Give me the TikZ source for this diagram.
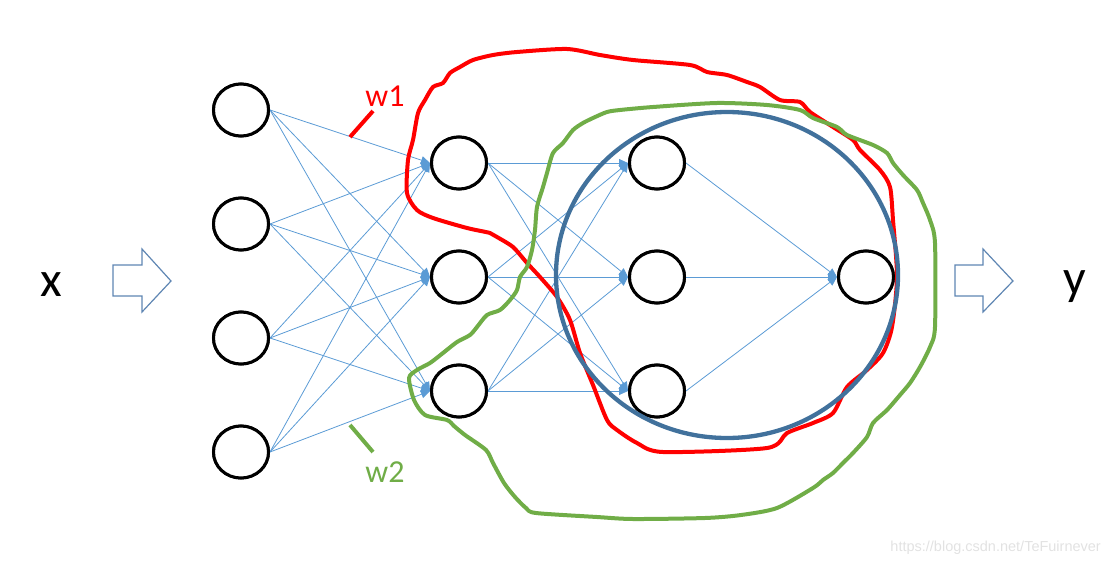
\documentclass[tikz,border=0pt]{standalone}
\usepackage{fontspec}
\setmainfont{Carlito}
\newfontfamily\wmfont{Liberation Sans}
\usetikzlibrary{shapes.geometric,arrows.meta}
\definecolor{edgeblue}{HTML}{5B9BD5}
\definecolor{ringblue}{HTML}{41719C}
\definecolor{wgreen}{HTML}{70AD47}
\definecolor{wred}{HTML}{FF0000}
\definecolor{wmgray}{HTML}{E2E2E2}
\definecolor{blockline}{HTML}{5F86B3}
\begin{document}
\begin{tikzpicture}[x=1pt,y=-1pt,
  neuron/.style={draw=black, line width=3pt, ellipse, minimum width=55pt, minimum height=52pt, inner sep=0pt, fill=white},
  conn/.style={draw=edgeblue, line width=0.8pt, -{Triangle[length=9pt,width=8pt]}},
  blockarrow/.style={draw=blockline, line width=1.2pt, fill=white, line join=miter},
  freehand/.style={line width=4pt, line join=round, line cap=round},
  biglabel/.style={font=\fontsize{50}{60}\selectfont, inner sep=0pt, anchor=base},
  wlabel/.style={font=\fontsize{32}{38}\selectfont, inner sep=0pt, anchor=base},
  tick/.style={line width=4pt},
]
\useasboundingbox (0,0) rectangle (1114,565);

% input layer
\node[neuron] (a1) at (241,110) {};
\node[neuron] (a2) at (241,224) {};
\node[neuron] (a3) at (241,338) {};
\node[neuron] (a4) at (241,452) {};
% hidden layer 1
\node[neuron] (b1) at (459,163) {};
\node[neuron] (b2) at (459,277) {};
\node[neuron] (b3) at (459,391) {};
% hidden layer 2
\node[neuron] (c1) at (657,163) {};
\node[neuron] (c2) at (657,277) {};
\node[neuron] (c3) at (657,391) {};
% output
\node[neuron] (d1) at (866,277) {};

\foreach \i in {1,2,3,4}{\foreach \j in {1,2,3}{\draw[conn] (a\i.east) -- (b\j.west);}}
\foreach \i in {1,2,3}{\foreach \j in {1,2,3}{\draw[conn] (b\i.east) -- (c\j.west);}}
\foreach \i in {1,2,3}{\draw[conn] (c\i.east) -- (d1.west);}

% redraw nodes on top of connectors
\foreach \x/\y in {241/110,241/224,241/338,241/452,459/163,459/277,459/391,657/163,657/277,657/391,866/277}{\node[neuron] at (\x,\y) {};}

% block arrows
\draw[blockarrow] (113,265) -- (142,265) -- (142,249) -- (171,281) -- (142,312) -- (142,296) -- (113,296) -- cycle;
\draw[blockarrow] (955,265) -- (983,265) -- (983,249) -- (1013,281) -- (983,312) -- (983,296) -- (955,296) -- cycle;

% labels x, y
\node[biglabel] (xl) at (51,296) {x};
\node[biglabel] (yl) at (1075,294) {y};

% red freehand curve (w1)
\draw[freehand, draw=wred] plot[smooth cycle, tension=0.45] coordinates {
(407,193) (408,160) (413,140) (418,113) (425,100) (433,87) (443,83) (450,73) (460,67) (473,60) (493,55) (517,52) (567,49) (600,55) (633,60) (690,65) (707,72) (727,75) (747,82) (760,87) (780,100) (800,102) (810,112) (833,127) (853,140) (860,150) (880,170) (890,187) (893,220) (897,277) (892,327) (883,353) (867,370) (847,387) (833,413) (813,423) (787,433) (767,448) (663,452) (637,443) (617,430) (607,420) (593,385) (580,353) (570,320) (557,297) (540,277) (527,263) (513,247) (497,237) (490,233) (467,228) (433,218) (417,210)};

% green freehand curve (w2)
\draw[freehand, draw=wgreen] plot[smooth cycle, tension=0.45] coordinates {
(535,230) (537,207) (543,187) (547,173) (553,153) (563,143) (573,130) (583,123) (593,118) (607,112) (620,110) (653,107) (717,103) (767,105) (800,110) (813,118) (837,127) (847,135) (873,145) (887,153) (893,163) (903,175) (917,190) (923,203) (930,220) (935,243) (935,327) (930,347) (920,367) (910,383) (900,395) (887,410) (873,423) (867,437) (853,453) (843,463) (833,473) (823,480) (813,488) (777,508) (741,515) (705,518) (633,519) (597,517) (536,513) (526,508) (515,497) (504,483) (493,463) (486,450) (465,435) (454,426) (447,420) (425,415) (414,400) (409,378) (417,370) (430,363) (443,353) (457,342) (470,335) (477,327) (487,315) (500,310) (510,300) (517,290) (520,277) (527,267) (532,250)};

% blue ring
\draw[draw=ringblue, line width=4.3pt] (727,275) ellipse [x radius=171pt, y radius=163pt];

% weight labels
\coordinate (w1a) at (350,137);
\coordinate (w1b) at (373,111);
\draw[tick, draw=wred] (w1a) -- (w1b);
\node[wlabel, text=wred] (w1) at (385,106) {w1};
\coordinate (w2a) at (350,425);
\coordinate (w2b) at (373,452);
\draw[tick, draw=wgreen] (w2a) -- (w2b);
\node[wlabel, text=wgreen] (w2) at (385,482) {w2};

% watermark
\node[font=\wmfont\fontsize{14.5}{17}\selectfont, text=wmgray, anchor=base east, inner sep=0pt] (wm) at (1101,551) {https://blog.csdn.net/TeFuirnever};
\end{tikzpicture}
\end{document}
